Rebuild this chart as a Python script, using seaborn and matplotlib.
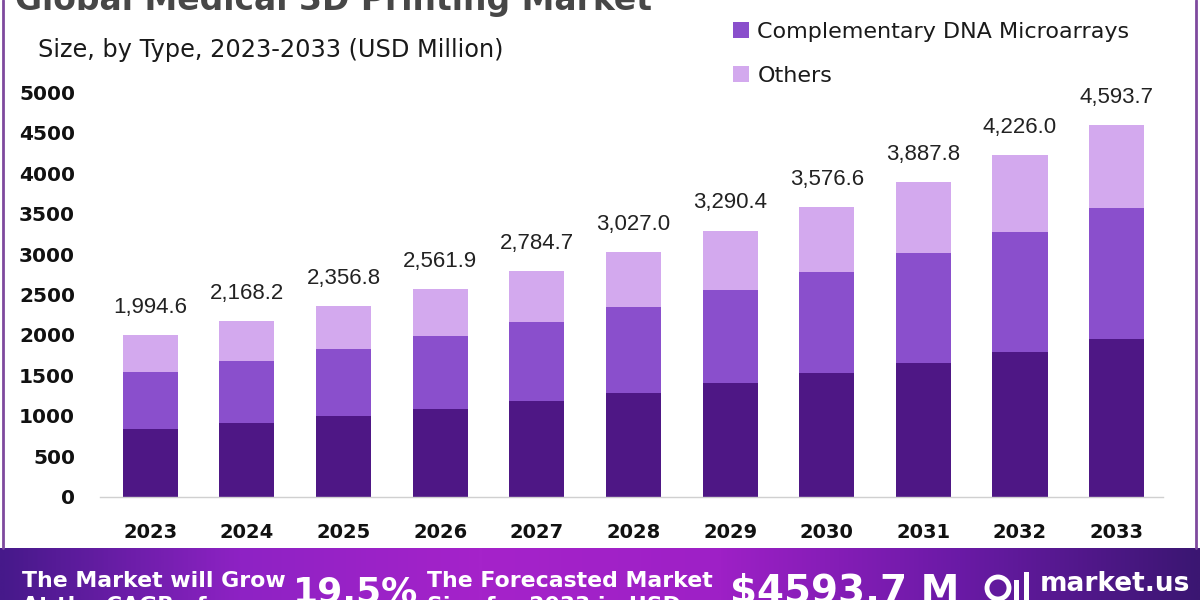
import matplotlib
matplotlib.use("Agg")
import matplotlib.pyplot as plt
import seaborn as sns
import numpy as np
import pandas as pd
from matplotlib.colors import LinearSegmentedColormap
from matplotlib.patches import Patch, Rectangle, Ellipse
from matplotlib.lines import Line2D

# data (USD Million)
years = ['2023', '2024', '2025', '2026', '2027', '2028', '2029', '2030', '2031', '2032', '2033']
bottom_seg = [837, 911, 998, 1084, 1183, 1278, 1402, 1525, 1656, 1792, 1946]
middle_seg = [704, 766, 828, 902, 973, 1071, 1153, 1249, 1360, 1480, 1619]
others_seg = [453.6, 491.2, 530.8, 575.9, 628.7, 678.0, 735.4, 802.6, 871.8, 954.0, 1028.7]
total_labels = ['1,994.6', '2,168.2', '2,356.8', '2,561.9', '2,784.7', '3,027.0',
                '3,290.4', '3,576.6', '3,887.8', '4,226.0', '4,593.7']
segment_names = ['Oligonucleotide DNA Microarray', 'Complementary DNA Microarrays', 'Others']
y_ticks = [0, 500, 1000, 1500, 2000, 2500, 3000, 3500, 4000, 4500, 5000]

colors = ['#4E1785', '#8A4FCC', '#D3A9EE']

df = pd.DataFrame({'Year': years, 'Bottom': bottom_seg, 'Middle': middle_seg, 'Others': others_seg})
df['Stack2'] = df['Bottom'] + df['Middle']
df['Stack3'] = df['Stack2'] + df['Others']

sns.set_theme(style='white')
plt.rcParams['font.family'] = ['DejaVu Sans']

W, H = 1200, 600
fig = plt.figure(figsize=(12, 6), dpi=100)
fig.patch.set_facecolor('white')


def fx(x):
    return x / W


def fy(y):
    return 1 - y / H


# main plot area
ax = fig.add_axes([fx(100), fy(496.7), fx(1163) - fx(100), fy(92.2) - fy(496.7)])
for col, c in zip(['Stack3', 'Stack2', 'Bottom'], colors[::-1]):
    sns.barplot(data=df, x='Year', y=col, color=c, width=0.57, saturation=1,
                errorbar=None, ax=ax, linewidth=0)

for i, lab in enumerate(total_labels):
    ax.annotate(lab, (i, df['Stack3'][i]), xytext=(0, 16), textcoords='offset points',
                ha='center', va='baseline', fontsize=16, color='#222222',
                family='Liberation Sans', annotation_clip=False)

ax.set_xlim(-0.52, 10.48)
ax.set_ylim(0, 5000)
ax.set_yticks(y_ticks)
ax.set_yticklabels([str(t) for t in y_ticks], fontweight='bold', fontsize=14.5, color='#111111')
ax.set_xticklabels(years, fontweight='bold', fontsize=14, color='#111111')
ax.tick_params(axis='y', length=0, pad=18)
ax.tick_params(axis='x', length=0, pad=19)
ax.set_xlabel('')
ax.set_ylabel('')
for side in ['top', 'right', 'left']:
    ax.spines[side].set_visible(False)
ax.spines['bottom'].set_color('#d0d0d0')
ax.spines['bottom'].set_linewidth(1)

# title (cut at top, as in the source image) and subtitle
fig.text(fx(15), fy(10), 'Global Medical 3D Printing Market', fontsize=23.8, fontweight='bold',
         color='#474747', va='baseline', ha='left')
fig.text(fx(38), fy(50), 'Size, by Type, 2023-2033 (USD Million)', fontsize=17.3,
         color='#1a1a1a', va='center', ha='left')

# legend
handles = [Patch(facecolor=c, edgecolor='none') for c in colors]
fig.legend(handles, segment_names, loc='center left', bbox_to_anchor=(fx(733), fy(32)),
           bbox_transform=fig.transFigure, frameon=False, fontsize=16, borderpad=0,
           borderaxespad=0, labelspacing=1.07, handlelength=0.7, handleheight=0.7,
           handletextpad=0.4, labelcolor='#1a1a1a')

# side borders
for xb in [3, 1196]:
    fig.add_artist(Line2D([fx(xb), fx(xb)], [fy(548), 1], color='#7E4A9E', lw=2,
                          transform=fig.transFigure))

# bottom banner
bax = fig.add_axes([0, 0, 1, 52 / H])
cmap = LinearSegmentedColormap.from_list('banner', ['#46198A', '#8E22C4', '#A523CA', '#9E20C6', '#6A1AA6', '#3B1672'])
bax.imshow(np.linspace(0, 1, 512)[None, :], aspect='auto', cmap=cmap, extent=[0, 1, 0, 1])
bax.set_axis_off()

fig.text(fx(22), fy(587), 'The Market will Grow', fontsize=15.8, fontweight='bold', color='white', va='baseline')
fig.text(fx(22), fy(612), 'At the CAGR of:', fontsize=15.8, fontweight='bold', color='white', va='baseline')
fig.text(fx(293), fy(603), '19.5%', fontsize=26, fontweight='bold', color='white', va='baseline')
fig.text(fx(427), fy(587), 'The Forecasted Market', fontsize=15.8, fontweight='bold', color='white', va='baseline')
fig.text(fx(427), fy(612), 'Size for 2033 in USD:', fontsize=15.8, fontweight='bold', color='white', va='baseline')
fig.text(fx(730), fy(603), '$4593.7 M', fontsize=28, fontweight='bold', color='white', va='baseline')
fig.text(fx(1040), fy(591), 'market.us', fontsize=19, fontweight='bold', color='white', va='baseline')

# logo icon
fig.add_artist(Ellipse((fx(998), fy(588)), 22 / W, 22 / H, fill=False, ec='white', lw=3.5,
                       transform=fig.transFigure))
fig.add_artist(Rectangle((fx(1014), fy(600)), 5 / W, 20 / H, fc='white', ec='none',
                         transform=fig.transFigure))
fig.add_artist(Rectangle((fx(1024), fy(600)), 5 / W, 28 / H, fc='white', ec='none',
                         transform=fig.transFigure))

fig.savefig('out.png', dpi=100)
